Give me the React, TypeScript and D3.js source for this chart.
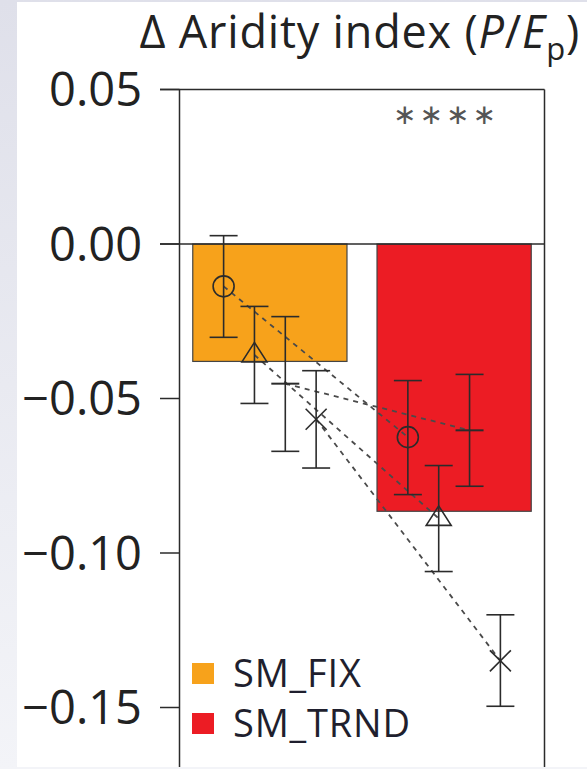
import React from "react"
import * as d3 from "d3"

// values
const categories = ["SM_FIX", "SM_TRND"]
const barColors = ["#f7a21b", "#ec1c24"]
const barValues = [-0.038, -0.0865]

const markerTypes = ["circle", "triangle", "plus", "cross"]
// one entry per marker type, same order as markerTypes
const fixMean = [-0.0137, -0.0359, -0.0452, -0.0567]
const fixLow = [-0.0302, -0.0516, -0.0671, -0.0725]
const fixHigh = [0.0027, -0.0202, -0.0235, -0.041]
const trndMean = [-0.0625, -0.0888, -0.0603, -0.1349]
const trndLow = [-0.0811, -0.106, -0.0784, -0.1496]
const trndHigh = [-0.0442, -0.0717, -0.0422, -0.12]

const tickValues = [0.05, 0, -0.05, -0.1, -0.15]
const tickLabels = ["0.05", "0.00", "\u22120.05", "\u22120.10", "\u22120.15"]
const stars = "\u2217\u2217\u2217\u2217"

const W = 587
const H = 769
const left = 179.5
const right = 544.5
const top = 89.5
const bottom = 767

const font = "'Open Sans', 'Noto Sans', sans-serif"
const ink = "#2b2b2b"

function Marker({ type, x, y }: { type: string; x: number; y: number }) {
  const common = { fill: "none", stroke: ink, strokeWidth: 1.6 }
  if (type === "circle") return <circle cx={x} cy={y} r={10.5} {...common} />
  if (type === "triangle") {
    const p = `${x},${y - 12.5} ${x - 12.5},${y + 7} ${x + 12.5},${y + 7}`
    return <polygon points={p} {...common} />
  }
  if (type === "plus") return <line x1={x - 14} x2={x + 14} y1={y} y2={y} {...common} strokeWidth={2} />
  const s = 10.5
  return (
    <g {...common}>
      <line x1={x - s} x2={x + s} y1={y - s} y2={y + s} />
      <line x1={x - s} x2={x + s} y1={y + s} y2={y - s} />
    </g>
  )
}

export default function App() {
  const x = d3.scaleBand().domain(categories).range([left, right]).paddingInner(0.163).paddingOuter(0.072)
  const y = d3.scaleLinear().domain([0.05, -0.15]).range([top, 707.5])
  const mx = d3.scalePoint().domain(markerTypes).range([0, x.bandwidth()]).padding(1)

  const groups = [
    { cat: categories[0], mean: fixMean, low: fixLow, high: fixHigh },
    { cat: categories[1], mean: trndMean, low: trndLow, high: trndHigh },
  ]
  const px = (cat: string, m: string) => (x(cat) as number) + (mx(m) as number)

  return (
    <svg width={W} height={H} style={{ position: "absolute", left: 0, top: 0 }}>
      <defs>
        <linearGradient id="bg" x1="0" y1="0" x2="0" y2="1">
          <stop offset="0" stopColor="#dfe0ea" />
          <stop offset="1" stopColor="#f3f4f8" />
        </linearGradient>
      </defs>
      <rect width={W} height={H} fill="url(#bg)" />
      <rect x={17} y={2} width={W - 17} height={bottom - 2} fill="#fff" />

      {/* title */}
      <text x={580} y={48} textAnchor="end" fontFamily={font} fontSize={45} letterSpacing={0.8} fill="#222">
        {"\u0394 Aridity index ("}
        <tspan fontStyle="italic">P</tspan>
        <tspan>/</tspan>
        <tspan fontStyle="italic">E</tspan>
        <tspan fontSize={31} dy={12}>p</tspan>
        <tspan dy={-12}>)</tspan>
      </text>

      {/* bars */}
      {categories.map((c, i) => (
        <rect key={c} x={x(c)} y={y(0)} width={x.bandwidth()} height={y(barValues[i]) - y(0)}
          fill={barColors[i]} stroke="#444" strokeWidth={1.2} />
      ))}

      {/* zero line */}
      <line x1={160} x2={right} y1={y(0)} y2={y(0)} stroke={ink} strokeWidth={1.4} />

      {/* dashed links between the two experiments */}
      {markerTypes.map((m, j) => (
        <line key={m} x1={px(categories[0], m)} y1={y(fixMean[j])} x2={px(categories[1], m)} y2={y(trndMean[j])}
          stroke="#4a4a4a" strokeWidth={1.8} strokeDasharray="5,5" />
      ))}

      {/* error bars and markers */}
      {groups.map(g => markerTypes.map((m, j) => {
        const cx = px(g.cat, m)
        return (
          <g key={g.cat + m}>
            <g stroke={ink} strokeWidth={1.6}>
              <line x1={cx} x2={cx} y1={y(g.high[j])} y2={y(g.low[j])} />
              <line x1={cx - 14} x2={cx + 14} y1={y(g.high[j])} y2={y(g.high[j])} />
              <line x1={cx - 14} x2={cx + 14} y1={y(g.low[j])} y2={y(g.low[j])} />
            </g>
            <Marker type={m} x={cx} y={y(g.mean[j])} />
          </g>
        )
      }))}

      {/* frame and ticks */}
      <g stroke={ink} strokeWidth={1.5} fill="none">
        <line x1={left} x2={left} y1={top} y2={bottom} />
        <line x1={right} x2={right} y1={top} y2={bottom} />
        <line x1={160} x2={right} y1={top} y2={top} />
        {tickValues.map(t => <line key={t} x1={160} x2={left} y1={y(t)} y2={y(t)} />)}
      </g>
      {tickValues.map((t, i) => (
        <text key={t} x={142} y={y(t)} dy="0.36em" textAnchor="end" fontFamily={font} fontSize={47} fill="#222">
          {tickLabels[i]}
        </text>
      ))}

      {/* significance */}
      <text x={446} y={124} textAnchor="middle" fontFamily="'DejaVu Sans', sans-serif" fontSize={28}
        letterSpacing={3} fill="#555">{stars}</text>

      {/* legend */}
      {categories.map((c, i) => (
        <g key={c} transform={`translate(192, ${663 + i * 50})`}>
          <rect width={22} height={21} fill={barColors[i]} />
          <text x={41} y={24} fontFamily={font} fontSize={38} letterSpacing={0.8} fill="#1f1f2e">{c}</text>
        </g>
      ))}
    </svg>
  )
}
